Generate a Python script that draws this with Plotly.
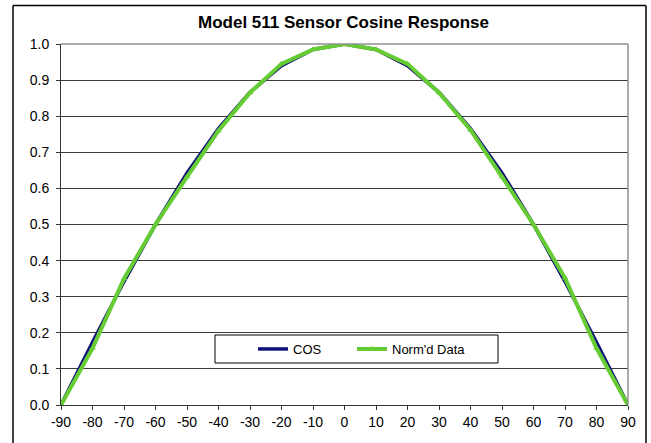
import plotly.graph_objects as go

angles = [-90, -80, -70, -60, -50, -40, -30, -20, -10, 0, 10, 20, 30, 40, 50, 60, 70, 80, 90]
cos_vals = [0.0, 0.174, 0.342, 0.5, 0.643, 0.766, 0.866, 0.940, 0.985, 1.0,
            0.985, 0.940, 0.866, 0.766, 0.643, 0.5, 0.342, 0.174, 0.0]
normd_vals = [0.0, 0.157, 0.35, 0.5, 0.632, 0.76, 0.865, 0.945, 0.985, 1.0,
              0.985, 0.945, 0.865, 0.762, 0.632, 0.5, 0.352, 0.157, 0.0]
x_ticks = list(range(-90, 91, 10))
y_ticks = [i / 10 for i in range(0, 11)]

W, H = 651, 443
L, R, T, B = 61, 628, 44, 405
pw, ph = R - L, B - T

def px(x):
    return (x - L) / pw

def py(y):
    return (B - y) / ph

fig = go.Figure()
fig.add_trace(go.Scatter(x=angles, y=cos_vals, name="COS", mode="lines",
                         line=dict(color="#10107a", width=3.5), legend="legend"))
fig.add_trace(go.Scatter(x=angles, y=normd_vals, name="Norm'd Data", mode="lines+markers",
                         line=dict(color="#66cc33", width=4),
                         marker=dict(symbol="triangle-up", size=6, color="#66cc33"),
                         legend="legend2"))

FAM = "Liberation Sans, Arial, sans-serif"
font = dict(family=FAM, size=14, color="black")
lfont = dict(family=FAM, size=13, color="black")

fig.update_layout(
    width=W, height=H,
    margin=dict(l=L, r=W - R, t=T, b=H - B, pad=0),
    paper_bgcolor="white", plot_bgcolor="white",
    font=font,
    title=dict(text="<b>Model 511 Sensor Cosine Response</b>", x=px(343.5), xref="paper",
               xanchor="center", y=1 - 22 / H, yanchor="middle",
               font=dict(family=FAM, size=17, color="black")),
    showlegend=True,
    legend=dict(orientation="h", x=px(253), y=py(349), xanchor="left", yanchor="middle",
                bgcolor="rgba(0,0,0,0)", borderwidth=0, font=lfont, itemwidth=30),
    legend2=dict(orientation="h", x=px(352), y=py(349), xanchor="left", yanchor="middle",
                 bgcolor="rgba(0,0,0,0)", borderwidth=0, font=lfont, itemwidth=30),
    xaxis=dict(range=[-90, 90], tickvals=x_ticks, ticktext=[str(v) for v in x_ticks],
               showgrid=False, zeroline=False, showline=True, linecolor="#333333", linewidth=1,
               ticks="outside", ticklen=4, tickcolor="#333333", tickfont=font),
    yaxis=dict(range=[0, 1.0], tickvals=y_ticks, ticktext=[f"{v:.1f}" for v in y_ticks],
               showgrid=True, gridcolor="#3a3a3a", gridwidth=1, zeroline=False,
               showline=True, linecolor="#333333", linewidth=1,
               ticks="outside", ticklen=4, tickcolor="#333333", tickfont=font,
               ticklabelstandoff=4),
)

# plot area border (top/right gray)
fig.add_shape(type="line", xref="paper", yref="paper", x0=0, x1=1, y0=1, y1=1,
              line=dict(color="#909090", width=1.5))
fig.add_shape(type="line", xref="paper", yref="paper", x0=1, x1=1, y0=0, y1=1,
              line=dict(color="#909090", width=1.5))
# outer chart border, drawn as four lines
ox0, ox1, oy_top, oy_bot = px(13), px(646), py(5.5), py(470)
for (a0, b0, a1, b1) in [(ox0, oy_top, ox1, oy_top), (ox0, oy_bot, ox0, oy_top),
                         (ox1, oy_bot, ox1, oy_top)]:
    fig.add_shape(type="line", xref="paper", yref="paper", x0=a0, y0=b0, x1=a1, y1=b1,
                  line=dict(color="black", width=1.5), layer="above")
# legend box
fig.add_shape(type="rect", xref="paper", yref="paper", x0=px(215), x1=px(498), y0=py(363), y1=py(335),
              line=dict(color="black", width=1), fillcolor="white", layer="below")

fig.write_html("out.html", config={"displayModeBar": False},
               post_script="document.body.style.margin='0';document.body.style.padding='0';")
